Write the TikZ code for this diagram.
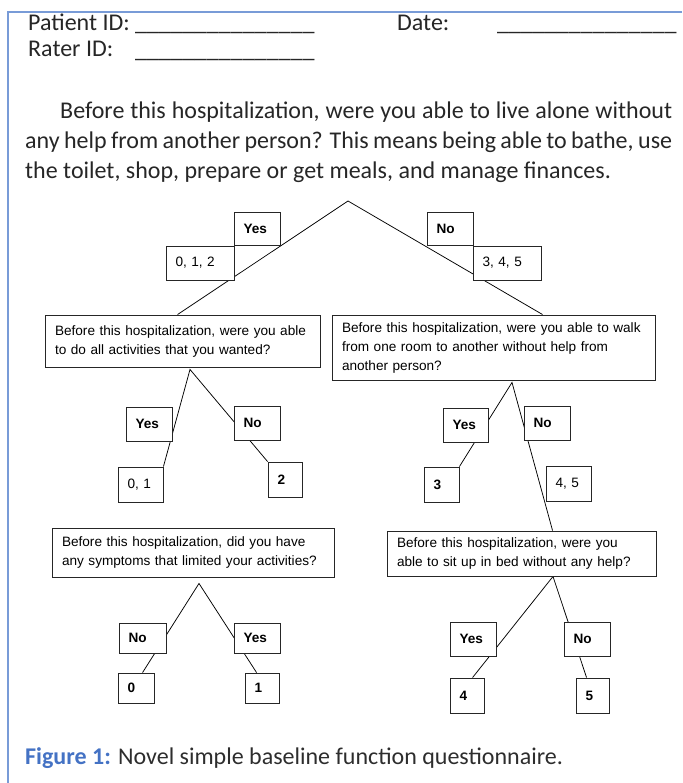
\documentclass[tikz,border=0pt]{standalone}
\usepackage{fontspec}
\setmainfont{Carlito}
\newfontfamily\arialfont{Liberation Sans}
\usetikzlibrary{backgrounds}
\definecolor{framebl}{RGB}{120,155,215}
\definecolor{capblue}{RGB}{68,114,196}
\definecolor{captext}{RGB}{45,45,45}
\begin{document}
\begin{tikzpicture}[x=1pt,y=-1pt,
  every node/.style={inner sep=0pt},
  qbox/.style={draw=black!85, line width=0.9pt, fill=white, font=\arialfont\fontsize{13.6}{19}\selectfont, inner xsep=10pt, align=left},
  sbox/.style={draw=black!85, line width=0.9pt, fill=white, font=\arialfont\fontsize{13.6}{15}\selectfont, inner xsep=9.5pt, inner ysep=0pt, align=left},
  bsbox/.style={sbox, font=\arialfont\bfseries\fontsize{13.6}{15}\selectfont},
  conn/.style={draw=black, line width=0.75pt},
  hdr/.style={font=\fontsize{24}{28}\selectfont, text=black!85, anchor=base west}
]
\useasboundingbox (0,0) rectangle (682,783);
\draw[framebl, line width=1.2pt] (682,12) -- (8,12) -- (8,783);

% header
\node[hdr] (pid) at (28,31) {Patient ID:};
\node[hdr] (pidl) at (135,31) {\_\_\_\_\_\_\_\_\_\_\_\_\_\_\_};
\node[hdr] (date) at (397,31) {Date:};
\node[hdr] (datel) at (497,31) {\_\_\_\_\_\_\_\_\_\_\_\_\_\_\_};
\node[hdr] (rid) at (28,57) {Rater ID:};
\node[hdr] (ridl) at (135,57.5) {\_\_\_\_\_\_\_\_\_\_\_\_\_\_\_};

% question paragraph
\node[anchor=north west, text width=647pt, align=justify, text=black!85,
      font=\fontsize{24}{30}\selectfont] (intro) at (25,101.5)
 {\hspace*{35pt}Before this hospitalization, were you able to live alone without\linebreak
  any help from another person? This means being able to bathe, use\linebreak
  the toilet, shop, prepare or get meals, and manage finances.};

% top level
\coordinate (A0) at (348,201);
\node[bsbox, text width=27pt, minimum height=33pt] (y1) at (257,228.5) {Yes};
\node[sbox, text width=49pt, minimum height=34pt] (r012) at (200,263) {0, 1, 2};
\node[bsbox, text width=27pt, minimum height=33pt] (n1) at (450,228.5) {No};
\node[sbox, text width=49pt, minimum height=34pt] (r345) at (507,263) {3, 4, 5};

\node[qbox, text width=255pt, minimum height=52pt] (Q1) at (182.5,341)
 {Before this hospitalization, were you able\\to do all activities that you wanted?};
\node[qbox, text width=303pt, minimum height=65pt] (Q2) at (493.5,347.5)
 {Before this hospitalization, were you able to walk\\from one room to another without help from\\another person?};

% left subtree
\node[bsbox, text width=27pt, minimum height=34pt] (y2) at (149,424) {Yes};
\node[sbox, text width=26pt, minimum height=35pt] (r01) at (140.5,484.5) {0, 1};
\node[bsbox, text width=27pt, minimum height=34pt] (n2) at (257,423) {No};
\node[bsbox, text width=15pt, minimum height=35pt] (r2) at (285,479.5) {2};

% right subtree
\node[bsbox, text width=26pt, minimum height=34pt] (y3) at (465.5,425) {Yes};
\node[bsbox, text width=16pt, minimum height=35pt] (r3) at (441.5,484.5) {3};
\node[bsbox, text width=27pt, minimum height=34pt] (n3) at (547,423) {No};
\node[sbox, text width=26pt, minimum height=35pt] (r45) at (568.5,483.5) {4, 5};

\node[qbox, text width=262pt, minimum height=49pt] (Q3) at (193,552.5)
 {Before this hospitalization, did you have\\any symptoms that limited your activities?};
\node[qbox, text width=249pt, minimum height=45pt] (Q4) at (521.5,553.5)
 {Before this hospitalization, were you\\able to sit up in bed without any help?};

% bottom left
\node[bsbox, text width=28pt, minimum height=30pt] (n4) at (142.5,638) {No};
\node[bsbox, text width=17pt, minimum height=30pt] (r0) at (136,688) {0};
\node[bsbox, text width=27pt, minimum height=30pt] (y4) at (257,638) {Yes};
\node[bsbox, text width=15pt, minimum height=30pt] (r1) at (262,688) {1};

% bottom right
\node[bsbox, text width=27pt, minimum height=34pt] (y5) at (473,639) {Yes};
\node[bsbox, text width=15pt, minimum height=35pt] (r4) at (467,695.5) {4};
\node[bsbox, text width=27pt, minimum height=34pt] (n5) at (587,639) {No};
\node[bsbox, text width=14pt, minimum height=35pt] (r5) at (592.5,695.5) {5};

% apex points
\coordinate (A1) at ([xshift=7.5pt,yshift=-2pt]Q1.south);
\coordinate (A2) at ([xshift=18.5pt,yshift=-2pt]Q2.south);
\coordinate (A3) at ([xshift=6pt,yshift=-6pt]Q3.south);
\coordinate (A4) at ([xshift=31.5pt]Q4.south);

\begin{pgfonlayer}{background}
\draw[conn] ([xshift=133pt]Q1.north west) -- (A0) -- ([xshift=211pt]Q2.north west);
\draw[conn] (r01.north east) -- (A1) -- (r2.north west);
\draw[conn] (r3.north east) -- (A2) -- ([xshift=166pt]Q4.north west);
\draw[conn] ([xshift=25pt]r0.north west) -- (A3) -- ([xshift=12pt]r1.north west);
\draw[conn] ([xshift=23pt]r4.north west) -- (A4) -- ([xshift=11pt]r5.north west);
\end{pgfonlayer}

% caption
\node[anchor=base west, font=\fontsize{24}{28}\selectfont] (cap) at (25,764)
 {\textcolor{capblue}{\bfseries Figure 1:} \textcolor{captext}{Novel simple baseline function questionnaire.}};
\end{tikzpicture}
\end{document}
